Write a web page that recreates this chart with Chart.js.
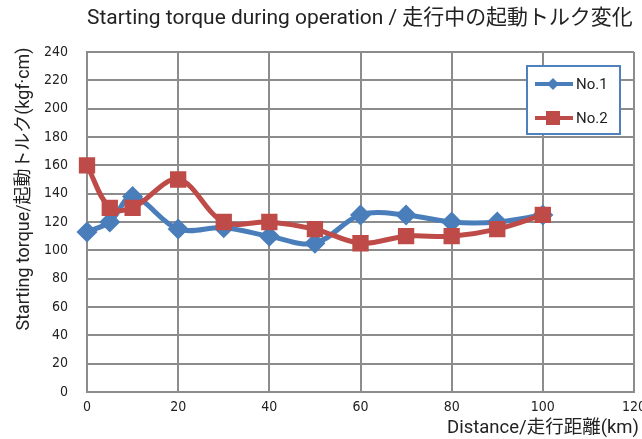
<!DOCTYPE html>
<html><head><meta charset="utf-8">
<script src="https://cdn.jsdelivr.net/npm/chart.js@4/dist/chart.umd.min.js"></script>
<style>html,body{margin:0;padding:0;background:#fff}#w{width:642px;height:439px}</style>
</head><body><div id="w"><canvas id="c" width="642" height="439"></canvas></div>
<script>
const distances = [0, 5, 10, 20, 30, 40, 50, 60, 70, 80, 90, 100];
const no1 = [113, 120, 138, 115, 116, 110, 105, 125, 125, 120, 120, 125];
const no2 = [160, 130, 130, 150, 120, 120, 115, 105, 110, 110, 115, 125];
const seriesNames = ['No.1', 'No.2'];
const xTicks = [0, 20, 40, 60, 80, 100, 120];
const yTicks = [0, 20, 40, 60, 80, 100, 120, 140, 160, 180, 200, 220, 240];
const titleText = 'Starting torque during operation / 走行中の起動トルク変化';
const xTitle = 'Distance/走行距離(km)';
const yTitle = 'Starting torque/起動トルク(kgf·cm)';

const FONT = '"Liberation Sans Narrow", "DejaVu Sans Condensed", "Noto Sans CJK JP", sans-serif';
const TFONT = 'Roboto, "Noto Sans CJK JP", sans-serif';
const BLUE = '#4A7EBB', RED = '#BE4B48', GRID = '#8c8c8c';

function fitText(ctx, text, family, target) {
  ctx.font = '20px ' + family;
  const w = ctx.measureText(text).width;
  const size = 20 * target / w;
  ctx.font = size.toFixed(2) + 'px ' + family;
}

const textPlugin = {
  id: 'texts',
  afterDraw(chart) {
    const ctx = chart.ctx;
    ctx.save();
    ctx.fillStyle = '#222';
    ctx.textBaseline = 'middle';
    fitText(ctx, titleText, TFONT, 546);
    ctx.textAlign = 'left';
    ctx.fillText(titleText, 87, 19);
    fitText(ctx, xTitle, TFONT, 192);
    ctx.fillText(xTitle, 447, 428);
    fitText(ctx, yTitle, TFONT, 283);
    ctx.translate(25, 189);
    ctx.rotate(-Math.PI / 2);
    ctx.textAlign = 'center';
    ctx.fillText(yTitle, 0, 0);
    ctx.restore();

    ctx.save();
    const bx = 527, by = 66, bw = 93, bh = 68;
    ctx.fillStyle = '#fff';
    ctx.fillRect(bx, by, bw, bh);
    ctx.strokeStyle = '#4F81BD'; ctx.lineWidth = 2;
    ctx.strokeRect(bx, by, bw, bh);
    chart.data.datasets.forEach((ds, i) => {
      const y = i === 0 ? 84 : 118;
      ctx.strokeStyle = ds.borderColor; ctx.lineWidth = 4;
      ctx.beginPath(); ctx.moveTo(535, y); ctx.lineTo(573, y); ctx.stroke();
      ctx.fillStyle = ds.borderColor;
      if (ds.pointStyle === 'rectRot') {
        ctx.beginPath(); ctx.moveTo(553, y - 6); ctx.lineTo(559, y); ctx.lineTo(553, y + 6); ctx.lineTo(547, y); ctx.closePath(); ctx.fill();
      } else {
        ctx.fillRect(546, y - 7, 14, 14);
      }
      ctx.fillStyle = '#222';
      ctx.font = '15px ' + TFONT;
      ctx.textAlign = 'left'; ctx.textBaseline = 'middle';
      ctx.fillText(ds.label, 576, y + 1);
    });
    ctx.restore();
  }
};

new Chart(document.getElementById('c'), {
  type: 'line',
  data: {
    datasets: [
      { label: seriesNames[0], data: distances.map((d, i) => ({x: d, y: no1[i]})), order: 1,
        borderColor: BLUE, backgroundColor: BLUE, borderWidth: 5, tension: 0.35, clip: false,
        pointStyle: 'rectRot', pointRadius: 7, pointHoverRadius: 7 },
      { label: seriesNames[1], data: distances.map((d, i) => ({x: d, y: no2[i]})), order: 0,
        borderColor: RED, backgroundColor: RED, borderWidth: 5, tension: 0.35, clip: false,
        pointStyle: 'rect', pointRadius: 8, pointHoverRadius: 8 }
    ]
  },
  options: {
    responsive: false, animation: false, devicePixelRatio: 1,
    layout: { autoPadding: false, padding: { top: 52, right: 8, left: 0, bottom: 0 } },
    plugins: { legend: { display: false }, title: { display: false }, tooltip: { enabled: false } },
    scales: {
      x: {
        type: 'linear', min: 0, max: 120,
        afterBuildTicks: s => { s.ticks = xTicks.map(v => ({value: v})); },
        afterFit: s => { s.height = 47; s.paddingRight = 0; s.paddingLeft = 0; },
        grid: { color: GRID, lineWidth: 2, drawTicks: false },
        border: { color: GRID, width: 2 },
        ticks: { color: '#222', font: { family: FONT, size: 14 }, padding: 7, maxRotation: 0 }
      },
      y: {
        min: 0, max: 240,
        afterBuildTicks: s => { s.ticks = yTicks.map(v => ({value: v})); },
        afterFit: s => { s.width = 87; s.paddingTop = 0; s.paddingBottom = 0; },
        grid: { color: GRID, lineWidth: 2, drawTicks: false },
        border: { color: GRID, width: 2 },
        ticks: { color: '#222', font: { family: FONT, size: 14 }, padding: 19 }
      }
    }
  },
  plugins: [textPlugin]
});
</script></body></html>
